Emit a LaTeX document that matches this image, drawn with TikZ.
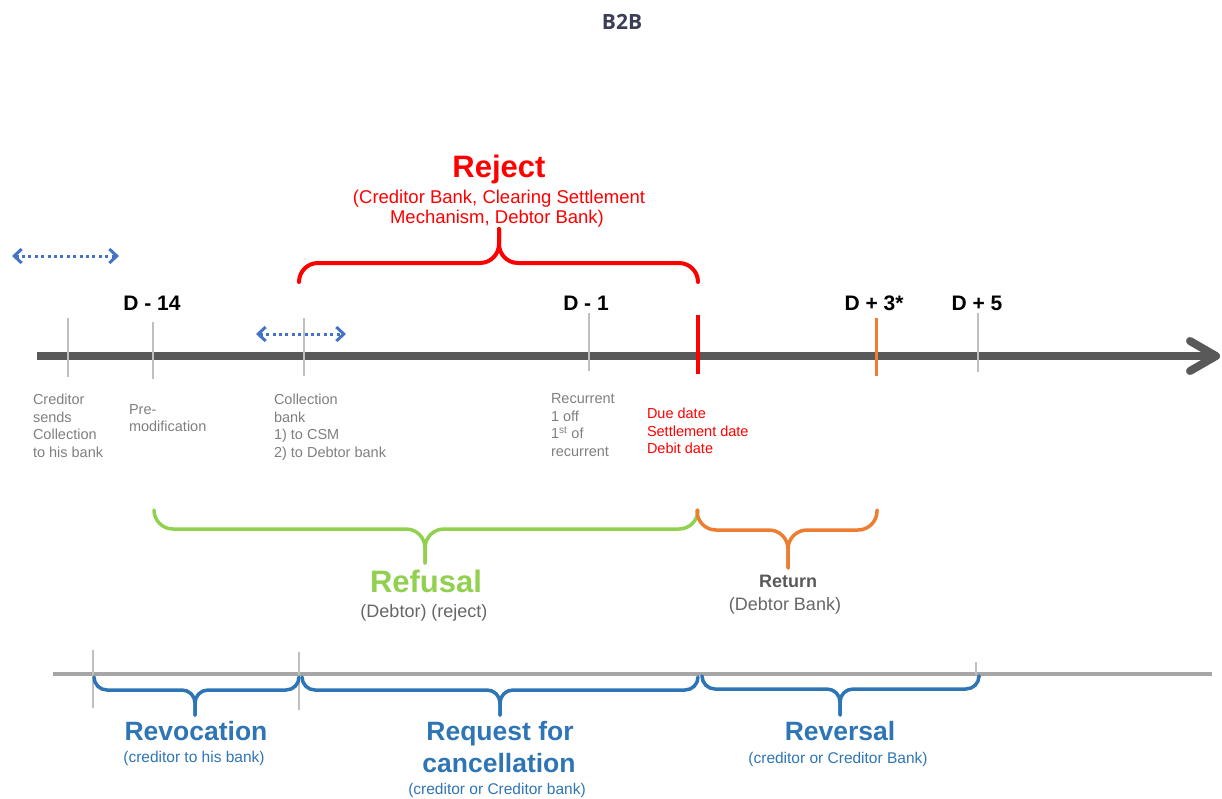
\documentclass[tikz,border=0pt]{standalone}
\usepackage{fontspec}
\setmainfont{Liberation Sans}
\newfontfamily\bbfont{Open Sans}
\usetikzlibrary{arrows.meta}
\definecolor{axisgray}{HTML}{595959}
\definecolor{tickgray}{HTML}{BFBFBF}
\definecolor{linegray}{HTML}{A6A6A6}
\definecolor{lblgray}{HTML}{7F7F7F}
\definecolor{subgray}{HTML}{666666}
\definecolor{retgray}{HTML}{595959}
\definecolor{rejred}{HTML}{FF0000}
\definecolor{refgreen}{HTML}{92D050}
\definecolor{retorange}{HTML}{ED7D31}
\definecolor{revblue}{HTML}{2E75B6}
\definecolor{dotblue}{HTML}{4472C4}
\definecolor{titlecol}{HTML}{3B3E57}
\newcommand{\fs}[2]{\fontsize{#1}{#2}\selectfont}
\begin{document}
\begin{tikzpicture}[x=1pt,y=-1pt,
  every node/.style={inner sep=0pt, outer sep=0pt},
  dlabel/.style={font=\fs{21}{24}\bfseries, anchor=base, text=black},
  smalllbl/.style={font=\fs{14.5}{17.5}, text=lblgray, align=left, anchor=north west},
  duelbl/.style={font=\fs{14.5}{17.5}, text=rejred, align=left, anchor=north west},
  bigtitle/.style={font=\fs{26.5}{30}\bfseries, anchor=base},
  subtitle/.style={font=\fs{15.5}{18}, anchor=base},
  ticktop/.style={draw=tickgray, line width=2.8pt},
  bracepath/.style={line width=3.5pt, line cap=round, line join=round},
  dotarrow/.style={draw=dotblue, line width=3pt, dash pattern=on 3pt off 3.4pt,
     {Straight Barb[length=7.5pt,width=14pt,line width=3pt]}-{Straight Barb[length=7.5pt,width=14pt,line width=3pt]}}
]
\useasboundingbox (0,0) rectangle (1222,798);

% title
\node[font=\bbfont\fontsize{21}{24}\selectfont\bfseries, text=titlecol, anchor=base] (title) at (622,29.5) {B2B};

% main timeline
\coordinate (axL) at (37,356);
\coordinate (axR) at (1214,356);
\coordinate (ahA) at (1190,341);
\coordinate (ahT) at (1216,356);
\coordinate (ahB) at (1190,371);
\draw[axisgray, line width=8pt] (axL) -- (axR);
\draw[axisgray, line width=8pt, line cap=round, line join=round] (ahA) -- (ahT) -- (ahB);

% ticks on the main timeline
\draw[ticktop] (68,318) -- (68,377);
\draw[ticktop] (153,322) -- (153,379);
\draw[ticktop] (304,318) -- (304,376);
\draw[ticktop] (589,313) -- (589,371);
\draw[rejred, line width=4pt] (698,315) -- (698,374);
\draw[retorange, line width=3pt] (876,318) -- (876,376);
\draw[ticktop] (978,313) -- (978,372);

% day labels
\node[dlabel] (d14) at (152,310.3) {D - 14};
\node[dlabel] (d1) at (586,310.3) {D - 1};
\node[dlabel] (d3) at (874,310.3) {D + 3*};
\node[dlabel] (d5) at (977,310.3) {D + 5};

% dotted double arrows
\coordinate (da1L) at (12,256);
\coordinate (da1R) at (119,256);
\coordinate (da2L) at (256,334);
\coordinate (da2R) at (346,334);
\draw[dotarrow] (da1L) -- (da1R);
\draw[dotarrow] (da2L) -- (da2R);

% small labels under the axis
\node[smalllbl] (lcred) at (33,394) {Creditor\\sends\\Collection\\to his bank};
\node[smalllbl] (lpre) at (129,404.5) {Pre-\\modification};
\node[smalllbl] (lcoll) at (274,394) {Collection\\bank\\1) to CSM\\2) to Debtor bank};
\node[smalllbl] (lrec) at (551,394) {Recurrent\\1 off\\1\textsuperscript{st} of\\recurrent};
\node[duelbl] (ldue) at (647,408) {Due date\\Settlement date\\Debit date};

% Reject brace (red)
\draw[rejred, line width=4pt, line cap=round, rounded corners=19pt] (299,282) -- (299,263) -- (499,263) -- (499,229);
\draw[rejred, line width=4pt, line cap=round, rounded corners=19pt] (499,229) -- (499,263) -- (698,263) -- (698,282);
\node[font=\fs{31}{34}\bfseries, text=rejred, anchor=base] (reject) at (499,177) {Reject};
\node[font=\fs{18.5}{21}, text=rejred, anchor=base] (rejsub1) at (499,203) {(Creditor Bank, Clearing Settlement};
\node[font=\fs{18.5}{21}, text=rejred, anchor=base] (rejsub2) at (497,223.5) {Mechanism, Debtor Bank)};

% Refusal brace (green)
\draw[refgreen, bracepath, rounded corners=19pt] (154,510) -- (154,529) -- (425,529) -- (425,563);
\draw[refgreen, bracepath, rounded corners=19pt] (425,563) -- (425,529) -- (698,529) -- (698,510);
\node[font=\fs{31}{34}\bfseries, text=refgreen, anchor=base] (refusal) at (426,592.3) {Refusal};
\node[font=\fs{18}{21}, text=subgray, anchor=base] (refsub) at (424,617.5) {(Debtor) (reject)};

% Return brace (orange)
\draw[retorange, bracepath, rounded corners=19pt] (697,510) -- (697,530) -- (788,530) -- (788,568);
\draw[retorange, bracepath, rounded corners=19pt] (788,568) -- (788,530) -- (877,530) -- (877,510);
\node[font=\fs{18}{21}\bfseries, text=retgray, anchor=base] (return) at (788,587.7) {Return};
\node[font=\fs{18}{21}, text=subgray, anchor=base] (retsub) at (785,610) {(Debtor Bank)};

% bottom line
\coordinate (blL) at (53,674);
\coordinate (blR) at (1212,674);
\draw[linegray, line width=4pt] (blL) -- (blR);
\draw[tickgray, line width=2.5pt] (93,650) -- (93,708);
\draw[tickgray, line width=2.5pt] (299,652) -- (299,710);
\draw[tickgray, line width=2.5pt] (976,662) -- (976,675);

% blue braces
\draw[revblue, bracepath, rounded corners=13pt] (94,677) -- (94,690) -- (195,690) -- (195,715);
\draw[revblue, bracepath, rounded corners=13pt] (195,715) -- (195,690) -- (299,690) -- (299,677);
\draw[revblue, bracepath, rounded corners=13pt] (302,677) -- (302,690) -- (500,690) -- (500,715);
\draw[revblue, bracepath, rounded corners=13pt] (500,715) -- (500,690) -- (698,690) -- (698,677);
\draw[revblue, bracepath, rounded corners=13pt] (702,677) -- (702,689) -- (840,689) -- (840,715);
\draw[revblue, bracepath, rounded corners=13pt] (840,715) -- (840,689) -- (979,689) -- (979,677);

\node[bigtitle, text=revblue] (revoc) at (196,740.7) {Revocation};
\node[subtitle, text=revblue] (revocsub) at (194,762.5) {(creditor to his bank)};
\node[bigtitle, text=revblue] (req1) at (500,740.5) {Request for};
\node[bigtitle, text=revblue] (req2) at (499,772) {cancellation};
\node[subtitle, text=revblue] (reqsub) at (497,794.3) {(creditor or Creditor bank)};
\node[bigtitle, text=revblue] (revers) at (840,740) {Reversal};
\node[subtitle, text=revblue] (reverssub) at (838,763.5) {(creditor or Creditor Bank)};
\end{tikzpicture}
\end{document}
